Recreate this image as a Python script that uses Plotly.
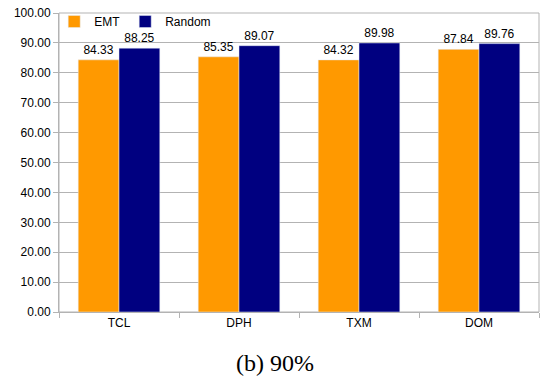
import plotly.graph_objects as go

categories = ["TCL", "DPH", "TXM", "DOM"]
emt = [84.33, 85.35, 84.32, 87.84]
random_vals = [88.25, 89.07, 89.98, 89.76]
y_ticks = [0, 10, 20, 30, 40, 50, 60, 70, 80, 90, 100]

font_family = "Liberation Sans, Arial, sans-serif"

fig = go.Figure()
fig.add_trace(go.Bar(
    x=categories, y=emt, name="EMT", marker_color="#ff9900",
    text=[f"{v:.2f}" for v in emt], textposition="outside",
    textfont=dict(size=12, color="#000000", family=font_family), cliponaxis=False,
))
fig.add_trace(go.Bar(
    x=categories, y=random_vals, name="Random", marker_color="#000080",
    text=[f"{v:.2f}" for v in random_vals], textposition="outside",
    textfont=dict(size=12, color="#000000", family=font_family), cliponaxis=False,
))

fig.update_layout(
    width=545, height=377,
    margin=dict(l=59, r=6, t=13, b=65, autoexpand=False),
    paper_bgcolor="white", plot_bgcolor="white",
    barmode="group", bargap=0.32, bargroupgap=0,
    font=dict(family=font_family, size=12, color="#000000"),
    showlegend=True,
    legend=dict(orientation="h", x=-0.01, y=1.02, xanchor="left", yanchor="top",
                bgcolor="rgba(0,0,0,0)", font=dict(size=12),
                tracegroupgap=0),
)
fig.update_yaxes(
    range=[0, 100], tickvals=y_ticks, ticktext=[f"{v:.2f}" for v in y_ticks],
    showgrid=True, gridcolor="#b3b3b3", gridwidth=1,
    showline=True, linecolor="#b3b3b3", mirror=False, automargin=False,
    ticks="outside", ticklen=5, tickcolor="#b3b3b3", zeroline=False,
    tickfont=dict(size=12), ticklabeloverflow="allow",
)
fig.update_xaxes(
    showline=True, linecolor="#b3b3b3", mirror=False, automargin=False,
    ticks="outside", ticklen=5, tickcolor="#b3b3b3", tickson="boundaries",
    tickfont=dict(size=12), showgrid=False,
)
# top and right frame
fig.add_shape(type="rect", xref="paper", yref="paper", x0=0, y0=0, x1=1, y1=1,
              line=dict(color="#b3b3b3", width=1), fillcolor="rgba(0,0,0,0)", layer="below")

fig.add_annotation(
    text="(b) 90%", xref="paper", yref="paper", x=(275 - 59) / 480, y=-(363 - 312) / 299,
    xanchor="center", yanchor="middle", showarrow=False,
    font=dict(family="Liberation Serif, serif", size=24, color="#000000"),
)

fig.write_html("out.html", config={"displayModeBar": False},
               post_script="document.body.style.margin='0';")
